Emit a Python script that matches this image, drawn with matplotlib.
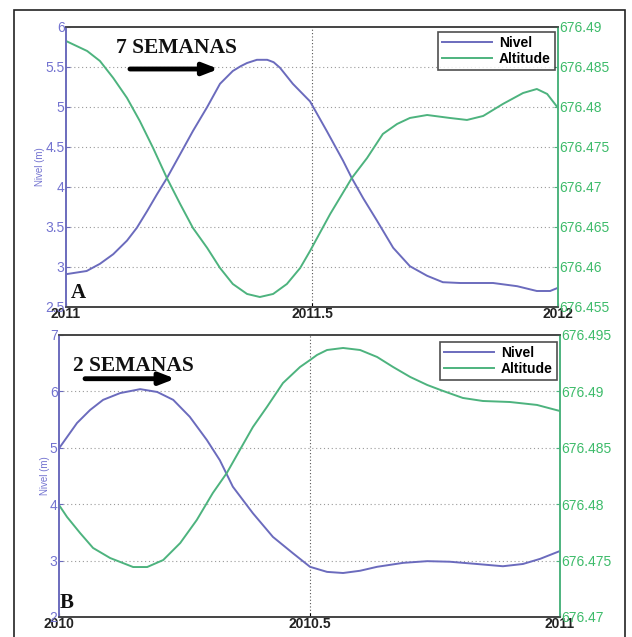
import matplotlib
matplotlib.use('Agg')
import matplotlib.pyplot as plt
from matplotlib.patches import Rectangle

# painel A (2011)
anos_a_nivel = [2011.0, 2011.042, 2011.069, 2011.096, 2011.124, 2011.144, 2011.165, 2011.185,
                2011.205, 2011.232, 2011.258, 2011.287, 2011.313, 2011.339, 2011.355, 2011.368,
                2011.388, 2011.409, 2011.422, 2011.435, 2011.461, 2011.496, 2011.530, 2011.563,
                2011.581, 2011.604, 2011.632, 2011.665, 2011.699, 2011.734, 2011.766, 2011.801,
                2011.868, 2011.917, 2011.957, 2011.984, 2012.0]
nivel_a = [2.91, 2.95, 3.04, 3.16, 3.33, 3.49, 3.70, 3.91,
           4.11, 4.41, 4.70, 5.00, 5.29, 5.45, 5.51, 5.55,
           5.59, 5.59, 5.56, 5.49, 5.29, 5.07, 4.70, 4.33,
           4.11, 3.86, 3.58, 3.24, 3.01, 2.89, 2.81, 2.80,
           2.80, 2.76, 2.70, 2.70, 2.74]

anos_a_alt = [2011.0, 2011.043, 2011.069, 2011.096, 2011.124, 2011.150, 2011.177, 2011.205,
              2011.232, 2011.258, 2011.287, 2011.313, 2011.339, 2011.368, 2011.394, 2011.421,
              2011.449, 2011.476, 2011.496, 2011.537, 2011.581, 2011.612, 2011.644, 2011.673,
              2011.699, 2011.734, 2011.780, 2011.815, 2011.848, 2011.888, 2011.929, 2011.957,
              2011.978, 2012.0]
alt_a = [676.48825, 676.4870, 676.48575, 676.48363, 676.48113, 676.47825, 676.47488, 676.47113,
         676.46788, 676.46488, 676.46238, 676.45988, 676.45788, 676.45663, 676.45625, 676.45663,
         676.45788, 676.45988, 676.4620, 676.46663, 676.47113, 676.47363, 676.47663, 676.47788,
         676.47863, 676.4790, 676.47863, 676.47838, 676.47888, 676.48038, 676.48175, 676.48225,
         676.48163, 676.47988]

# painel B (2010)
anos_b_nivel = [2010.0, 2010.016, 2010.036, 2010.062, 2010.088, 2010.122, 2010.162, 2010.196,
                2010.228, 2010.261, 2010.295, 2010.321, 2010.347, 2010.387, 2010.427, 2010.467,
                2010.501, 2010.535, 2010.567, 2010.601, 2010.635, 2010.687, 2010.735, 2010.780,
                2010.834, 2010.886, 2010.926, 2010.960, 2011.0]
nivel_b = [4.99, 5.19, 5.44, 5.67, 5.85, 5.97, 6.04, 5.99,
           5.85, 5.55, 5.14, 4.78, 4.31, 3.84, 3.42, 3.13,
           2.89, 2.80, 2.78, 2.82, 2.89, 2.96, 2.99, 2.98,
           2.94, 2.90, 2.94, 3.03, 3.17]

anos_b_alt = [2010.0, 2010.016, 2010.042, 2010.068, 2010.102, 2010.148, 2010.176, 2010.208,
              2010.242, 2010.275, 2010.307, 2010.335, 2010.361, 2010.387, 2010.415, 2010.447,
              2010.481, 2010.501, 2010.515, 2010.535, 2010.567, 2010.601, 2010.635, 2010.667,
              2010.701, 2010.735, 2010.766, 2010.806, 2010.846, 2010.900, 2010.954, 2011.0]
alt_b = [676.47993, 676.47887, 676.47745, 676.47612, 676.47523, 676.47443, 676.47443, 676.47505,
         676.47656, 676.4786, 676.48099, 676.48277, 676.48481, 676.48684, 676.48862, 676.49074,
         676.49216, 676.49278, 676.49323, 676.49367, 676.49385, 676.49367, 676.49305, 676.49216,
         676.49128, 676.49057, 676.49005, 676.48942, 676.48915, 676.48906, 676.4888, 676.48826]

azul = '#6b6bbd'
verde = '#4db37e'
azul_txt = '#7373d0'
verde_txt = '#3dbb6a'

plt.rcParams['font.family'] = ['Liberation Sans', 'DejaVu Sans']

fig = plt.figure(figsize=(6.32, 6.37), dpi=100)
fig.patches.append(Rectangle((14 / 632, -0.02), 611 / 632, 1 - 10 / 637 + 0.02,
                             transform=fig.transFigure, fill=False,
                             edgecolor='#222222', linewidth=1.2))


def painel(pos, anos_n, niv, anos_h, alt, xlim, xticks, ylim1, yticks1, ylim2, yticks2,
           texto, txy, seta, letra, lxy, leg_anchor):
    ax = fig.add_axes(pos)
    ax2 = ax.twinx()
    l1, = ax.plot(anos_n, niv, color=azul, lw=1.4, label='Nivel')
    l2, = ax2.plot(anos_h, alt, color=verde, lw=1.4, label='Altitude')

    ax.set_xlim(*xlim)
    ax.set_xticks(xticks)
    ax.set_xticklabels([('%g' % t) for t in xticks], fontsize=10, fontweight='bold',
                       color='#222222')
    ax.set_ylim(*ylim1)
    ax.set_yticks(yticks1)
    ax.set_yticklabels([('%g' % t) for t in yticks1], fontsize=10, color=azul_txt)
    ax2.set_ylim(*ylim2)
    ax2.set_yticks(yticks2)
    ax2.set_yticklabels([('%g' % t) for t in yticks2], fontsize=10, color=verde_txt)

    ax.tick_params(direction='in', length=3, pad=1)
    ax.tick_params(axis='x', pad=0)
    ax.tick_params(axis='y', colors=azul, labelcolor=azul_txt)
    ax2.tick_params(direction='in', length=3, pad=1, colors=verde, labelcolor=verde_txt)

    for t in yticks1[1:-1]:
        ax.axhline(t, color='#9a9a9a', lw=0.8, ls=(0, (1, 2.5)), zorder=0)
    ax.axvline(xticks[1], color='#555555', lw=0.8, ls=(0, (1, 2)), zorder=0)

    for a in (ax, ax2):
        a.spines['top'].set_color('#444444')
        a.spines['bottom'].set_color('#444444')
        a.spines['left'].set_color(azul)
        a.spines['right'].set_color(verde)
        for s in a.spines.values():
            s.set_linewidth(1.2)

    ax.set_ylabel('Nivel (m)', color=azul_txt, fontsize=7, labelpad=0)

    ax.text(txy[0], txy[1], texto, transform=ax.transAxes, ha='center', va='center',
            family='Liberation Serif', fontweight='bold', fontsize=15.5, color='#111111')
    ax.annotate('', xy=seta[1], xytext=seta[0], xycoords='axes fraction',
                arrowprops=dict(arrowstyle='-|>,head_width=0.35,head_length=0.9',
                                lw=3.5, color='#000000', shrinkA=0, shrinkB=0))
    ax.text(lxy[0], lxy[1], letra, transform=ax.transAxes, ha='center', va='center',
            family='Liberation Serif', fontweight='bold', fontsize=15, color='#111111')

    leg = ax2.legend([l1, l2], ['Nivel', 'Altitude'], loc='upper right',
                     bbox_to_anchor=leg_anchor, borderaxespad=0, fancybox=False,
                     prop={'weight': 'bold', 'size': 10}, handlelength=3.6,
                     labelspacing=0.1, borderpad=0.3, handletextpad=0.5)
    leg.get_frame().set_edgecolor('#222222')
    leg.get_frame().set_linewidth(1.2)
    return ax, ax2


painel([66 / 632, 1 - 307 / 637, 492 / 632, 280 / 637],
       anos_a_nivel, nivel_a, anos_a_alt, alt_a,
       (2011, 2012), [2011, 2011.5, 2012],
       (2.5, 6), [2.5, 3, 3.5, 4, 4.5, 5, 5.5, 6],
       (676.455, 676.49), [676.455, 676.46, 676.465, 676.47, 676.475, 676.48, 676.485, 676.49],
       '7 SEMANAS', (0.224, 0.925), ((0.13, 0.85), (0.31, 0.85)),
       'A', (0.025, 0.05), (0.994, 0.982))

painel([59 / 632, 1 - 617 / 637, 501 / 632, 282 / 637],
       anos_b_nivel, nivel_b, anos_b_alt, alt_b,
       (2010, 2011), [2010, 2010.5, 2011],
       (2, 7), [2, 3, 4, 5, 6, 7],
       (676.47, 676.495), [676.47, 676.475, 676.48, 676.485, 676.49, 676.495],
       '2 SEMANAS', (0.148, 0.89), ((0.052, 0.845), (0.232, 0.845)),
       'B', (0.016, 0.05), (0.994, 0.975))

fig.savefig('out.png', dpi=100)
